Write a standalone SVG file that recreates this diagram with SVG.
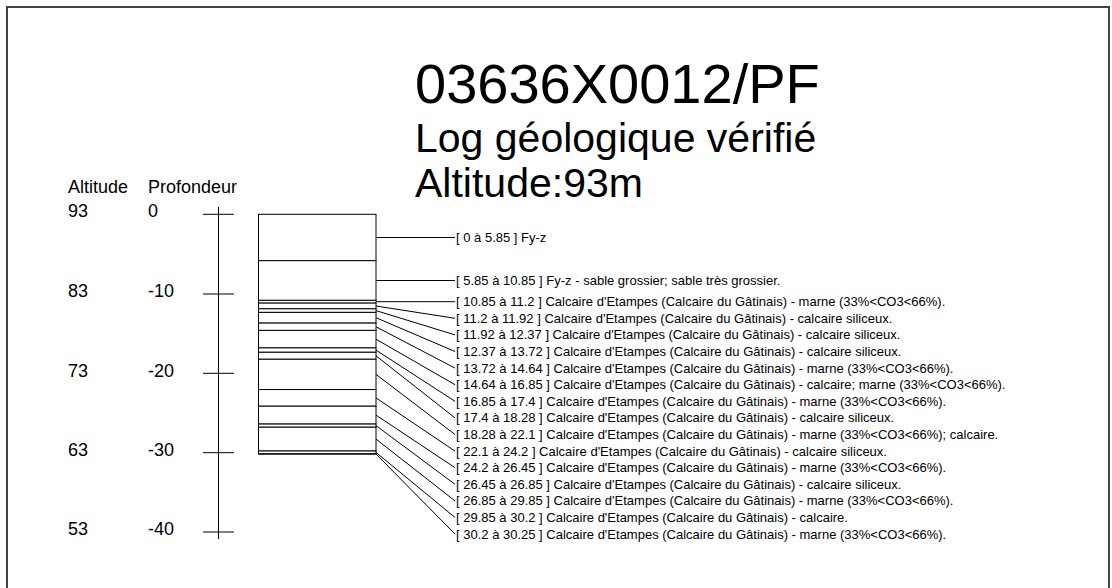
<svg xmlns="http://www.w3.org/2000/svg" width="1112" height="588" viewBox="0 0 1112 588">
<style>
text{font-family:"Liberation Sans",Arial,sans-serif;fill:#000}
.t1{font-size:56px}
.t2{font-size:41px}
.ax{font-size:18px}
.lb{font-size:13px}
.ly{fill:#fff;stroke:#000;stroke-width:1}
.cn{stroke:#000;stroke-width:1;fill:none}
.tk{stroke:#000;stroke-width:1}
</style>
<rect x="7" y="7" width="1102" height="700" fill="#fff" stroke="#444" stroke-width="2"/>
<g id="title">
<text class="t1" x="415" y="103">03636X0012/PF</text>
<text class="t2" x="415" y="152">Log géologique vérifié</text>
<text class="t2" x="415" y="197">Altitude:93m</text>
</g>
<g id="axis">
<text class="ax" x="68" y="193">Altitude</text>
<text class="ax" x="148" y="193">Profondeur</text>
<line class="tk" x1="218.5" y1="207" x2="218.5" y2="539"/>
<line class="tk" x1="203" y1="214.3" x2="234" y2="214.3"/>
<line class="tk" x1="203" y1="294" x2="234" y2="294"/>
<line class="tk" x1="203" y1="373.3" x2="234" y2="373.3"/>
<line class="tk" x1="203" y1="452.7" x2="234" y2="452.7"/>
<line class="tk" x1="203" y1="532" x2="234" y2="532"/>
<text class="ax" x="68" y="216.5">93</text><text class="ax" x="148" y="216.5">0</text>
<text class="ax" x="68" y="297">83</text><text class="ax" x="148" y="297">-10</text>
<text class="ax" x="68" y="376.5">73</text><text class="ax" x="148" y="376.5">-20</text>
<text class="ax" x="68" y="455.7">63</text><text class="ax" x="148" y="455.7">-30</text>
<text class="ax" x="68" y="535">53</text><text class="ax" x="148" y="535">-40</text>
</g>
<g id="column">
<rect class="ly" x="258.5" y="214.3" width="117.5" height="46.39"/>
<rect class="ly" x="258.5" y="260.69" width="117.5" height="39.65"/>
<rect class="ly" x="258.5" y="300.34" width="117.5" height="2.78"/>
<rect class="ly" x="258.5" y="303.12" width="117.5" height="5.71"/>
<rect class="ly" x="258.5" y="308.83" width="117.5" height="3.56"/>
<rect class="ly" x="258.5" y="312.39" width="117.5" height="10.71"/>
<rect class="ly" x="258.5" y="323.1" width="117.5" height="7.3"/>
<rect class="ly" x="258.5" y="330.4" width="117.5" height="17.52"/>
<rect class="ly" x="258.5" y="347.92" width="117.5" height="4.36"/>
<rect class="ly" x="258.5" y="352.28" width="117.5" height="6.98"/>
<rect class="ly" x="258.5" y="359.26" width="117.5" height="30.29"/>
<rect class="ly" x="258.5" y="389.55" width="117.5" height="16.65"/>
<rect class="ly" x="258.5" y="406.2" width="117.5" height="17.85"/>
<rect class="ly" x="258.5" y="424.05" width="117.5" height="3.17"/>
<rect class="ly" x="258.5" y="427.22" width="117.5" height="23.79"/>
<rect class="ly" x="258.5" y="451.01" width="117.5" height="2.78"/>
<rect class="ly" x="258.5" y="453.79" width="117.5" height="0.39"/>
</g>
<g id="connectors">
<polyline class="cn" points="376,237.5 455,237.5"/>
<polyline class="cn" points="376,280.5 455,280.5"/>
<polyline class="cn" points="376,301.7 455,301.7"/>
<polyline class="cn" points="376,306 455,318.3"/>
<polyline class="cn" points="376,310.6 455,334.9"/>
<polyline class="cn" points="376,317.7 455,351.5"/>
<polyline class="cn" points="376,326.8 455,368.1"/>
<polyline class="cn" points="376,339.2 455,384.7"/>
<polyline class="cn" points="376,350.1 455,401.3"/>
<polyline class="cn" points="376,355.8 455,417.9"/>
<polyline class="cn" points="376,374.4 455,434.5"/>
<polyline class="cn" points="376,397.9 455,451.1"/>
<polyline class="cn" points="376,415.1 455,467.7"/>
<polyline class="cn" points="376,425.6 455,484.3"/>
<polyline class="cn" points="376,439.1 455,500.9"/>
<polyline class="cn" points="376,452.4 455,517.5"/>
<polyline class="cn" points="376,454 455,534.1"/>
</g>
<g id="labels">
<text class="lb" x="456" y="242">[ 0 à 5.85 ] Fy-z</text>
<text class="lb" x="456" y="285">[ 5.85 à 10.85 ] Fy-z - sable grossier; sable très grossier.</text>
<text class="lb" x="456" y="306.2">[ 10.85 à 11.2 ] Calcaire d'Etampes (Calcaire du Gâtinais) - marne (33%&lt;CO3&lt;66%).</text>
<text class="lb" x="456" y="322.8">[ 11.2 à 11.92 ] Calcaire d'Etampes (Calcaire du Gâtinais) - calcaire siliceux.</text>
<text class="lb" x="456" y="339.4">[ 11.92 à 12.37 ] Calcaire d'Etampes (Calcaire du Gâtinais) - calcaire siliceux.</text>
<text class="lb" x="456" y="356">[ 12.37 à 13.72 ] Calcaire d'Etampes (Calcaire du Gâtinais) - calcaire siliceux.</text>
<text class="lb" x="456" y="372.6">[ 13.72 à 14.64 ] Calcaire d'Etampes (Calcaire du Gâtinais) - marne (33%&lt;CO3&lt;66%).</text>
<text class="lb" x="456" y="389.2">[ 14.64 à 16.85 ] Calcaire d'Etampes (Calcaire du Gâtinais) - calcaire; marne (33%&lt;CO3&lt;66%).</text>
<text class="lb" x="456" y="405.8">[ 16.85 à 17.4 ] Calcaire d'Etampes (Calcaire du Gâtinais) - marne (33%&lt;CO3&lt;66%).</text>
<text class="lb" x="456" y="422.4">[ 17.4 à 18.28 ] Calcaire d'Etampes (Calcaire du Gâtinais) - calcaire siliceux.</text>
<text class="lb" x="456" y="439">[ 18.28 à 22.1 ] Calcaire d'Etampes (Calcaire du Gâtinais) - marne (33%&lt;CO3&lt;66%); calcaire.</text>
<text class="lb" x="456" y="455.6">[ 22.1 à 24.2 ] Calcaire d'Etampes (Calcaire du Gâtinais) - calcaire siliceux.</text>
<text class="lb" x="456" y="472.2">[ 24.2 à 26.45 ] Calcaire d'Etampes (Calcaire du Gâtinais) - marne (33%&lt;CO3&lt;66%).</text>
<text class="lb" x="456" y="488.8">[ 26.45 à 26.85 ] Calcaire d'Etampes (Calcaire du Gâtinais) - calcaire siliceux.</text>
<text class="lb" x="456" y="505.4">[ 26.85 à 29.85 ] Calcaire d'Etampes (Calcaire du Gâtinais) - marne (33%&lt;CO3&lt;66%).</text>
<text class="lb" x="456" y="522">[ 29.85 à 30.2 ] Calcaire d'Etampes (Calcaire du Gâtinais) - calcaire.</text>
<text class="lb" x="456" y="538.6">[ 30.2 à 30.25 ] Calcaire d'Etampes (Calcaire du Gâtinais) - marne (33%&lt;CO3&lt;66%).</text>
</g>
</svg>
